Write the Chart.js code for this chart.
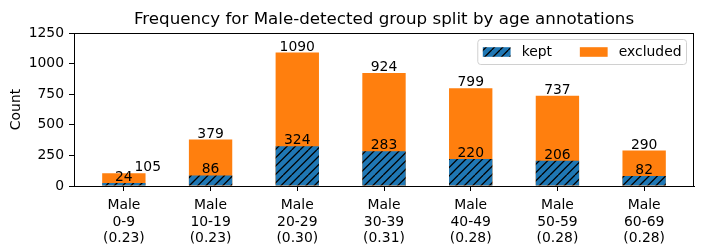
<!DOCTYPE html>
<html>
<head>
<meta charset="utf-8">
<script src="https://cdn.jsdelivr.net/npm/chart.js@4/dist/chart.umd.min.js"></script>
<style>
  html, body { margin: 0; padding: 0; background: #fff; }
  #wrap { width: 704px; height: 252px; }
</style>
</head>
<body>
<div id="wrap"><canvas id="chart" width="704" height="252"></canvas></div>
<script>
// Data
const groupName = 'Male';
const ageGroups = ['0-9', '10-19', '20-29', '30-39', '40-49', '50-59', '60-69'];
const keptCounts = [24, 86, 324, 283, 220, 206, 82];
const totalCounts = [105, 379, 1090, 924, 799, 737, 290];
const yTicks = [0, 250, 500, 750, 1000, 1250];

const BLUE = '#1f77b4';
const ORANGE = '#ff7f0e';
const FONT = 'DejaVu Sans';
const SIZE = 13.9;

const canvas = document.getElementById('chart');
const ctx = canvas.getContext('2d');

// matplotlib-like '//' hatch
function makeHatch(color) {
    const c = document.createElement('canvas');
    c.width = c.height = 25;
    const g = c.getContext('2d');
    g.fillStyle = color;
    g.fillRect(0, 0, 25, 25);
    g.strokeStyle = '#000';
    g.lineWidth = 1.3;
    g.beginPath();
    for (let k = -3; k <= 3; k++) {
        const x0 = k * 25 / 3;
        g.moveTo(x0, 25);
        g.lineTo(x0 + 25, 0);
    }
    g.stroke();
    return ctx.createPattern(c, 'repeat');
}
const keptFill = makeHatch(BLUE);

const margin = 0.05 * (ageGroups.length - 1 + 0.5);

const extras = {
    id: 'extras',
    afterDatasetsDraw(chart) {
        const c = chart.ctx;
        const kept = chart.getDatasetMeta(0).data;
        const total = chart.getDatasetMeta(1).data;
        c.save();
        c.font = `${SIZE}px "${FONT}"`;
        c.fillStyle = '#000';
        c.textAlign = 'center';
        c.textBaseline = 'alphabetic';
        kept.forEach((bar, i) => {
            const tb = total[i];
            c.fillText(String(keptCounts[i]), bar.x, bar.y - 2);
            let tx = tb.x;
            if (bar.y - tb.y < 13) tx += bar.width * 0.55;
            c.fillText(String(totalCounts[i]), tx, tb.y - 2);
        });
        c.restore();
    },
    afterDraw(chart) {
        const c = chart.ctx;
        const a = chart.chartArea;
        c.save();
        // axes frame
        c.strokeStyle = '#000';
        c.lineWidth = 1;
        c.strokeRect(Math.round(a.left) + 0.5, Math.round(a.top) + 0.5,
            Math.round(a.right - a.left) - 1, Math.round(a.bottom - a.top));

        // title
        c.fillStyle = '#000';
        c.font = `16.7px "${FONT}"`;
        c.textAlign = 'center';
        c.textBaseline = 'alphabetic';
        c.fillText(`Frequency for ${groupName}-detected group split by age annotations`,
            (a.left + a.right) / 2, a.top - 9);

        // y title
        c.font = `${SIZE}px "${FONT}"`;
        c.save();
        c.translate(16, (a.top + a.bottom) / 2);
        c.rotate(-Math.PI / 2);
        c.textBaseline = 'middle';
        c.fillText('Count', 0, 0);
        c.restore();

        // legend
        const items = [['kept', keptFill], ['excluded', ORANGE]];
        const handle = 27.8, gap = 11.1, colSp = 27.8, pad = 5;
        c.font = `${SIZE}px "${FONT}"`;
        const widths = items.map(it => c.measureText(it[0]).width);
        let w = pad * 2 + items.length * (handle + gap) + widths.reduce((s, v) => s + v, 0) + colSp * (items.length - 1);
        const h = 25;
        const bx = a.right - 7.5 - w, by = a.top + 6.5;
        c.beginPath();
        c.roundRect(bx, by, w, h, 3);
        c.fillStyle = 'rgba(255,255,255,0.8)';
        c.fill();
        c.strokeStyle = '#d0d0d0';
        c.lineWidth = 1;
        c.stroke();
        let x = bx + pad;
        const cy = by + h / 2;
        items.forEach((it, i) => {
            c.fillStyle = it[1];
            c.fillRect(x, cy - 4.8, handle, 9.6);
            x += handle + gap;
            c.fillStyle = '#000';
            c.textAlign = 'left';
            c.textBaseline = 'middle';
            c.fillText(it[0], x, cy);
            x += widths[i] + colSp;
        });
        c.restore();
    }
};

new Chart(canvas, {
    type: 'bar',
    data: {
        datasets: [{
            label: 'kept',
            data: keptCounts.map((v, i) => ({ x: i, y: v })),
            backgroundColor: keptFill,
            borderWidth: 0,
            grouped: false,
            barPercentage: 0.5,
            categoryPercentage: 1,
        }, {
            label: 'excluded',
            data: totalCounts.map((v, i) => ({ x: i, y: v })),
            backgroundColor: ORANGE,
            borderWidth: 0,
            grouped: false,
            barPercentage: 0.5,
            categoryPercentage: 1,
        }]
    },
    options: {
        responsive: false,
        animation: false,
        devicePixelRatio: 1,
        layout: { padding: { top: 33, right: 10, left: 0, bottom: 0 } },
        plugins: {
            legend: { display: false },
            title: { display: false },
            tooltip: { enabled: false },
        },
        scales: {
            x: {
                type: 'linear',
                offset: false,
                min: -0.25 - margin,
                max: ageGroups.length - 0.75 + margin,
                afterBuildTicks: s => { s.ticks = ageGroups.map((g, i) => ({ value: i })); },
                afterFit: s => { s.height = 66; },
                grid: { drawOnChartArea: false, offset: false, tickLength: 5, color: '#000' },
                border: { color: '#000' },
                ticks: {
                    autoSkip: false,
                    maxRotation: 0,
                    padding: 6,
                    color: '#000',
                    font: { family: FONT, size: SIZE, lineHeight: 1.2 },
                    callback: v => [groupName, ageGroups[v], `(${(keptCounts[v] / totalCounts[v]).toFixed(2)})`],
                },
            },
            y: {
                min: 0,
                max: yTicks[yTicks.length - 1],
                afterBuildTicks: s => { s.ticks = yTicks.map(v => ({ value: v })); },
                afterFit: s => { s.width = 74; },
                grid: { drawOnChartArea: false, tickLength: 5, color: '#000' },
                border: { color: '#000' },
                ticks: {
                    padding: 5,
                    color: '#000',
                    font: { family: FONT, size: SIZE },
                    callback: v => String(v),
                },
            }
        }
    },
    plugins: [extras]
});
</script>
</body>
</html>
